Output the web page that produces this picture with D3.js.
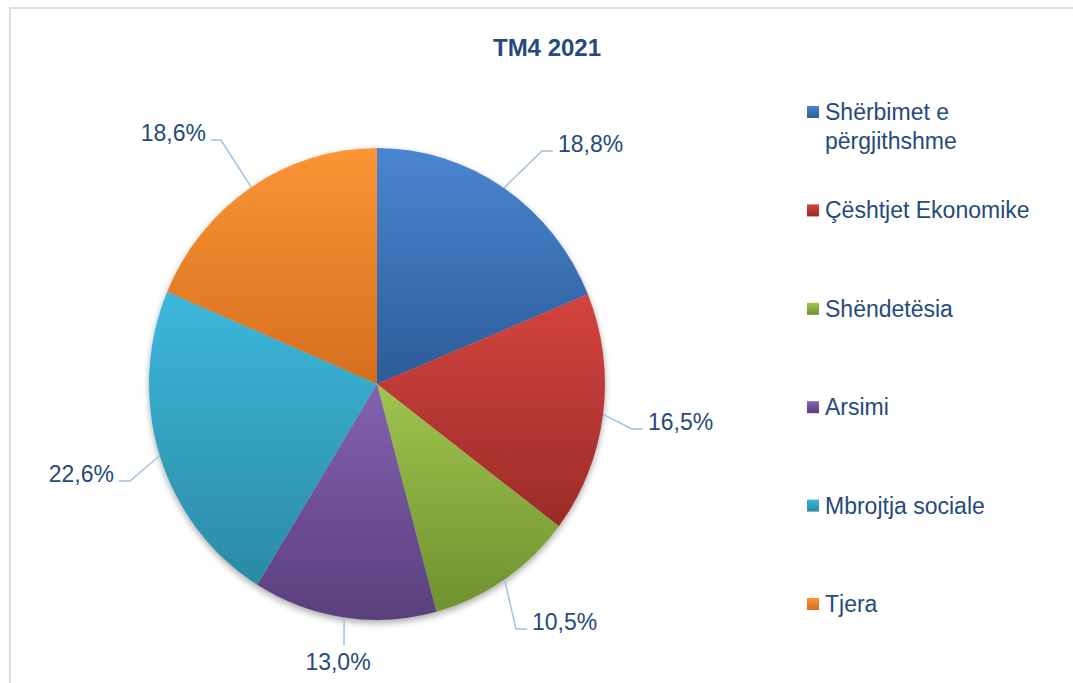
<!DOCTYPE html>
<html>
<head>
<meta charset="utf-8">
<script src="https://cdn.jsdelivr.net/npm/d3@7"></script>
<style>
  body { margin: 0; background: #fff; }
  svg { display: block; font-family: "Liberation Sans", Arial, sans-serif; }
</style>
</head>
<body>
<svg id="drawing_region"></svg>
<script>
// data
const categories = ['Shërbimet e përgjithshme', 'Çështjet Ekonomike', 'Shëndetësia', 'Arsimi', 'Mbrojtja sociale', 'Tjera'];
const legendLines = [['Shërbimet e', 'përgjithshme'], ['Çështjet Ekonomike'], ['Shëndetësia'], ['Arsimi'], ['Mbrojtja sociale'], ['Tjera']];
const values = [18.8, 16.5, 10.5, 13.0, 22.6, 18.6];
const colorsTop = ['#4a86d1', '#d5443f', '#9fc54f', '#8462b0', '#3cb8dc', '#fb9535'];
const colorsBottom = ['#2c5b98', '#9a2b28', '#6f912f', '#5a3f7d', '#2b8aa5', '#d56f1e'];

// label leader layout (elbow and end of each leader line, text anchor)
const leaderLayout = [
    { elbow: [542, 151], end: [553, 151], anchor: 'start' },
    { elbow: [632, 429], end: [643, 429], anchor: 'start' },
    { elbow: [516, 629], end: [527, 629], anchor: 'start' },
    { elbow: [344, 645], end: [344, 645], anchor: 'middle' },
    { elbow: [130, 481], end: [119, 481], anchor: 'end' },
    { elbow: [221, 140], end: [211, 140], anchor: 'end' }
];

const config = {
    width: 1073,
    height: 683,
    cx: 377,
    cy: 384,
    radius: 236,
    squeeze: 0.966,
    textColor: '#254a7b',
    leaderColor: '#9dc1e8'
};

const svg = d3.select('#drawing_region')
    .attr('width', config.width)
    .attr('height', config.height);

const defs = svg.append('defs');

categories.forEach((c, i) => {
    const g = defs.append('linearGradient')
        .attr('id', 'grad' + i)
        .attr('x1', 0).attr('y1', 0).attr('x2', 0).attr('y2', 1);
    g.append('stop').attr('offset', '0%').attr('stop-color', colorsTop[i]);
    g.append('stop').attr('offset', '100%').attr('stop-color', colorsBottom[i]);
});

const shadow = defs.append('filter')
    .attr('id', 'shadow')
    .attr('x', '-10%').attr('y', '-10%').attr('width', '120%').attr('height', '125%');
shadow.append('feDropShadow')
    .attr('dx', 0).attr('dy', 3)
    .attr('stdDeviation', 3.5)
    .attr('flood-color', '#000')
    .attr('flood-opacity', 0.35);

// chart border
svg.append('rect')
    .attr('x', 10).attr('y', 8)
    .attr('width', config.width + 20).attr('height', config.height + 20)
    .attr('fill', 'none')
    .attr('stroke', '#d3def0')
    .attr('stroke-width', 2);

// title
svg.append('text')
    .attr('x', 547)
    .attr('y', 56)
    .attr('text-anchor', 'middle')
    .style('font-size', '24px')
    .style('font-weight', 'bold')
    .attr('fill', config.textColor)
    .text('TM4 2021');

// pie
const pie = d3.pie().sort(null).value(d => d);
const arcs = pie(values);

const arc = d3.arc().innerRadius(0).outerRadius(config.radius);

const pieGroup = svg.append('g')
    .attr('transform', `translate(${config.cx}, ${config.cy}) scale(${config.squeeze}, 1)`)
    .attr('filter', 'url(#shadow)');

pieGroup.selectAll('path')
    .data(arcs)
    .enter()
    .append('path')
    .attr('d', arc)
    .attr('fill', (d, i) => `url(#grad${i})`);

// leader lines and labels
const edge = d3.arc().innerRadius(config.radius).outerRadius(config.radius);
const fmt = v => d3.format('.1f')(v).replace('.', ',') + '%';

arcs.forEach((d, i) => {
    const c = edge.centroid(d);
    const start = [config.cx + c[0] * config.squeeze, config.cy + c[1]];
    const L = leaderLayout[i];
    svg.append('polyline')
        .attr('points', [start, L.elbow, L.end].map(p => p.join(',')).join(' '))
        .attr('fill', 'none')
        .attr('stroke', config.leaderColor)
        .attr('stroke-width', 1.5);

    let tx = L.end[0], ty = L.end[1] + 1;
    if (L.anchor === 'start') tx += 5;
    if (L.anchor === 'end') tx -= 5;
    if (L.anchor === 'middle') { tx -= 6; ty = L.end[1] + 25; }
    svg.append('text')
        .attr('x', tx)
        .attr('y', ty)
        .attr('text-anchor', L.anchor)
        .style('font-size', '23px')
        .attr('fill', config.textColor)
        .text(fmt(values[i]));
});

// legend
const legendY = d3.scalePoint()
    .domain(categories)
    .range([112, 604]);

const legend = svg.append('g');
const item = legend.selectAll('g')
    .data(categories)
    .enter()
    .append('g')
    .attr('transform', d => `translate(807, ${legendY(d)})`);

item.append('rect')
    .attr('x', 0).attr('y', -6)
    .attr('width', 12).attr('height', 12)
    .attr('fill', (d, i) => `url(#grad${i})`);

item.each(function (d, i) {
    const t = d3.select(this).append('text')
        .attr('x', 18)
        .attr('y', 8)
        .style('font-size', '23px')
        .attr('fill', config.textColor);
    legendLines[i].forEach((line, j) => {
        t.append('tspan')
            .attr('x', 18)
            .attr('dy', j === 0 ? 0 : 29)
            .text(line);
    });
});
</script>
</body>
</html>
